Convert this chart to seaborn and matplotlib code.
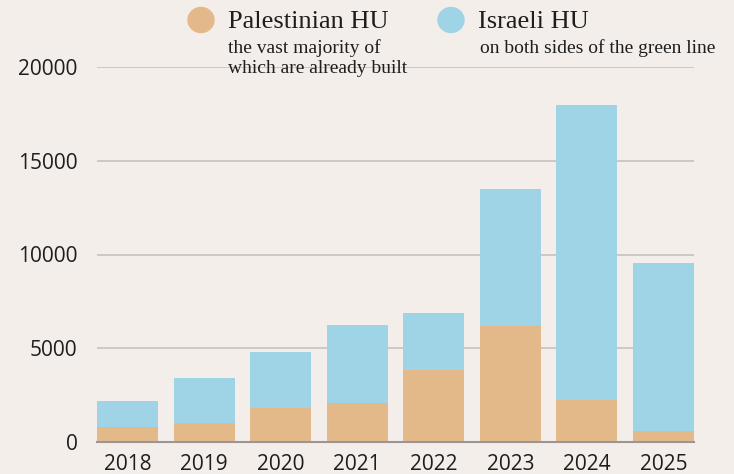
import pandas as pd
import matplotlib
matplotlib.use("Agg")
import matplotlib.pyplot as plt
import seaborn as sns

# DATA (housing units per year)
years = ["2018", "2019", "2020", "2021", "2022", "2023", "2024", "2025"]
palestinian_hu = [800, 1000, 1800, 2100, 3850, 6200, 2250, 600]
israeli_hu = [1400, 2400, 3000, 4150, 3020, 7300, 15750, 8950]
y_ticks = [0, 5000, 10000, 15000, 20000]

df = pd.DataFrame({"year": years, "Palestinian HU": palestinian_hu, "Israeli HU": israeli_hu})
df["total"] = df["Palestinian HU"] + df["Israeli HU"]

BG = "#f3eeea"
ORANGE = "#e3b98a"
BLUE = "#9fd4e6"

sns.set_theme(style="white")
plt.rcParams["font.family"] = ["Open Sans", "DejaVu Sans"]

fig = plt.figure(figsize=(7.34, 4.74), dpi=100, facecolor=BG)
ax = fig.add_axes([97 / 734, 32 / 474, 597 / 734, 375 / 474])
ax.set_facecolor(BG)

# stacked bars: total in blue, Palestinian part on top of it in orange
sns.barplot(data=df, x="year", y="total", color=BLUE, width=0.8, saturation=1,
            linewidth=0, ax=ax, zorder=2)
sns.barplot(data=df, x="year", y="Palestinian HU", color=ORANGE, width=0.8, saturation=1,
            linewidth=0, ax=ax, zorder=3)

ax.set_xlim(-0.4, len(years) - 0.6)
ax.set_ylim(0, 20000)
ax.set_yticks(y_ticks)
ax.set_yticklabels([str(t) for t in y_ticks])
ax.set_xlabel("")
ax.set_ylabel("")
ax.yaxis.grid(True, color="#c9c5c1", linewidth=1.3, zorder=0)
ax.set_axisbelow(True)
for s in ["left", "top", "right"]:
    ax.spines[s].set_visible(False)
ax.spines["bottom"].set_color("#9a9693")
ax.spines["bottom"].set_linewidth(1.5)
ax.spines["bottom"].set_zorder(4)
ax.tick_params(axis="y", length=0, pad=14, labelsize=15, labelcolor="#1e1e1e")
ax.tick_params(axis="x", length=0, pad=9, labelsize=15, labelcolor="#1e1e1e")

# legend drawn as text at the top
serif = ["Liberation Serif", "DejaVu Serif"]
fig.patches.append(matplotlib.patches.Ellipse((201 / 734, 1 - 20 / 474), 26 / 734, 25 / 474,
                                              transform=fig.transFigure, color=ORANGE))
fig.patches.append(matplotlib.patches.Ellipse((451 / 734, 1 - 20 / 474), 26 / 734, 25 / 474,
                                              transform=fig.transFigure, color=BLUE))
fig.text(228 / 734, 1 - 28 / 474, "Palestinian HU", family=serif, fontsize=19, color="#1e1e1e", va="baseline")
fig.text(478 / 734, 1 - 28 / 474, "Israeli HU", family=serif, fontsize=19, color="#1e1e1e", va="baseline")
fig.text(228 / 734, 1 - 53 / 474, "the vast majority of", family=serif, fontsize=14, color="#1e1e1e", va="baseline")
fig.text(228 / 734, 1 - 73 / 474, "which are already built", family=serif, fontsize=14, color="#1e1e1e", va="baseline")
fig.text(480 / 734, 1 - 53 / 474, "on both sides of the green line", family=serif, fontsize=14, color="#1e1e1e", va="baseline")

fig.savefig("out.png", dpi=100, facecolor=BG)
